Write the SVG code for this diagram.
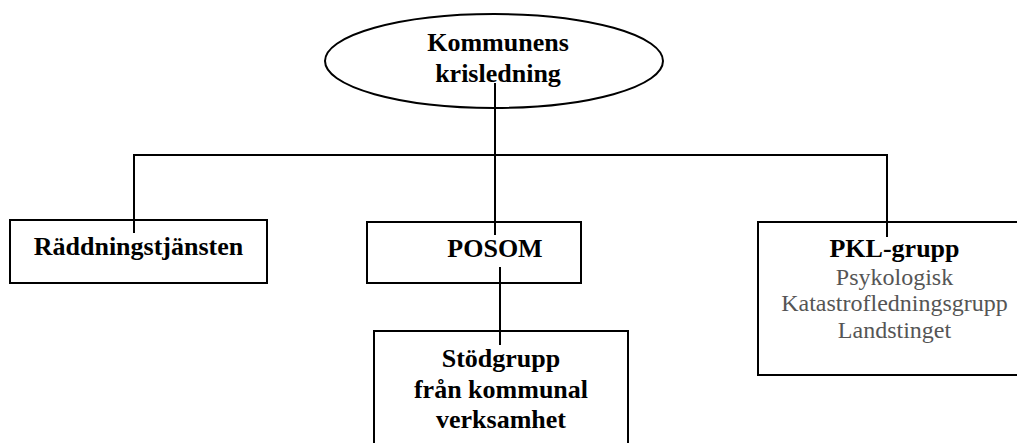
<svg xmlns="http://www.w3.org/2000/svg" width="1017" height="443" viewBox="0 0 1017 443">
<style>
.box{fill:#fff;stroke:#000;stroke-width:2}
.t{font-family:"Liberation Serif","Times New Roman",serif;font-weight:bold;font-size:26px;fill:#000;text-anchor:middle}
.s{font-family:"Liberation Serif","Times New Roman",serif;font-size:24px;fill:#555;text-anchor:middle}
.c{stroke:#000;stroke-width:2;fill:none}
</style>
<rect width="1017" height="443" fill="#fff"/>
<g id="node-krisledning">
<ellipse class="box" cx="494" cy="61" rx="169" ry="47"/>
<text class="t" x="498" y="51">Kommunens</text>
<text class="t" x="498" y="82">krisledning</text>
</g>
<g id="node-raddning">
<rect class="box" x="10" y="220" width="257" height="63"/>
<text class="t" x="138.5" y="255">Räddningstjänsten</text>
</g>
<g id="node-posom">
<rect class="box" x="367" y="222" width="214" height="61"/>
<text class="t" x="495" y="257">POSOM</text>
</g>
<g id="node-pkl">
<rect class="box" x="758" y="222" width="270" height="153"/>
<text class="t" x="894.5" y="257">PKL-grupp</text>
<text class="s" x="894.5" y="285">Psykologisk</text>
<text class="s" x="894.5" y="311">Katastrofledningsgrupp</text>
<text class="s" x="894.5" y="338">Landstinget</text>
</g>
<g id="node-stodgrupp">
<rect class="box" x="374" y="331" width="254" height="130"/>
<text class="t" x="501" y="367">Stödgrupp</text>
<text class="t" x="501" y="398">från kommunal</text>
<text class="t" x="501" y="428">verksamhet</text>
</g>
<g id="connectors">
<polyline class="c" points="495,83 495,235"/>
<polyline class="c" points="134,233 134,155 887,155 887,237"/>
<polyline class="c" points="500,267 500,345"/>
</g>
</svg>
